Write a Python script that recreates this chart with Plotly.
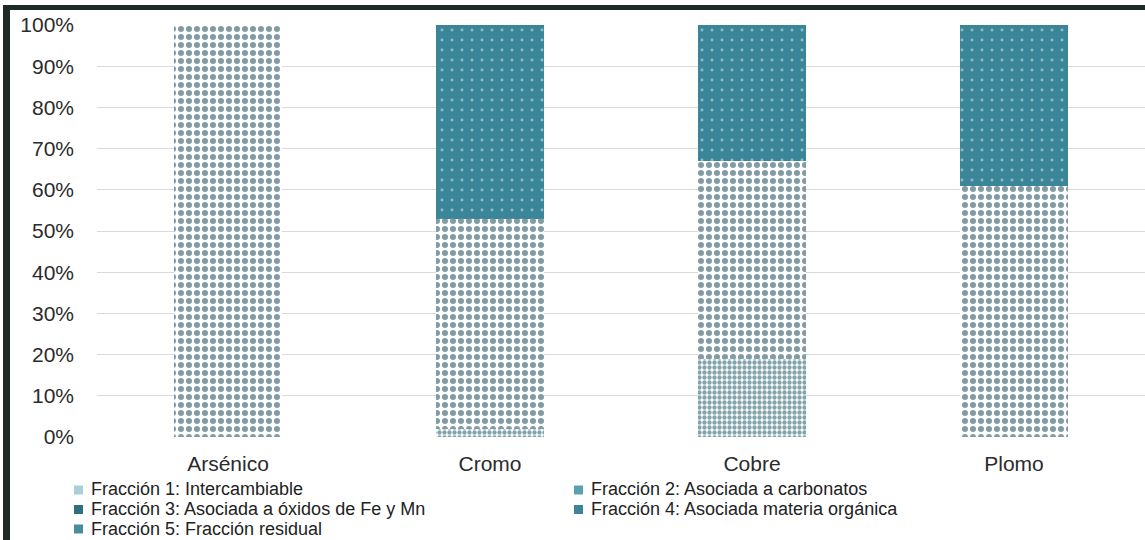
import plotly.graph_objects as go

categories = ["Arsénico", "Cromo", "Cobre", "Plomo"]
f1 = [0, 0, 0, 0]
f2 = [0, 0, 0, 0]
f5 = [0, 2, 19, 0]
f3 = [100, 51, 48, 61]
f4 = [0, 47, 33, 39]
names = [
    "Fracción 1: Intercambiable",
    "Fracción 2: Asociada a carbonatos",
    "Fracción 3: Asociada a óxidos de Fe y Mn",
    "Fracción 4: Asociada materia orgánica",
    "Fracción 5: Fracción residual",
]
y_ticks = [0, 10, 20, 30, 40, 50, 60, 70, 80, 90, 100]
y_labels = [f"{v}%" for v in y_ticks]

W, H = 1145, 540
L, R, T, B = 97, 0, 25, 103
pw = W - L - R
ph = H - T - B

def px_x(p):
    return (p - L) / pw

def px_y(p):
    return (H - B - p) / ph

fig = go.Figure()
styles = [
    dict(shape=".", fgcolor="#8fc0cc", bgcolor="white", size=6, solidity=0.3),
    dict(shape=".", fgcolor="#3f8aa0", bgcolor="white", size=7, solidity=0.4),
    dict(shape=".", fgcolor="#05384a", bgcolor="white", size=8, solidity=0.45),
    dict(shape=".", fgcolor="#e3f1f4", bgcolor="#3a8598", size=10, solidity=0.07),
    dict(shape=".", fgcolor="#084a5c", bgcolor="white", size=5, solidity=0.6),
]
legend_colors = ["#a9d0d9", "#5aa0b2", "#2e6f80", "#3a8598", "#4a8c9d"]
series = [f1, f2, f3, f4, f5]
# stacking order bottom -> top: F1, F2, F5, F3, F4
order = [0, 1, 4, 2, 3]
for i in order:
    fig.add_trace(go.Bar(
        x=categories, y=series[i], name=names[i],
        marker=dict(color="white", line=dict(width=0), pattern=styles[i]),
        width=0.41, showlegend=False,
    ))

# legend drawn as text + small swatches (two columns, three rows)
leg_pos = [(90, 489.5), (590, 489.5), (90, 509), (590, 509), (90, 528.5)]
annotations = []
shapes = []
for i, (lx, ly) in enumerate(leg_pos):
    annotations.append(dict(
        text=names[i], x=px_x(lx), y=px_y(ly), xref="paper", yref="paper",
        xanchor="left", yanchor="middle", showarrow=False,
        font=dict(size=18, color="#222222"), borderpad=0,
    ))
    shapes.append(dict(
        type="rect", xref="paper", yref="paper",
        x0=px_x(lx - 16), x1=px_x(lx - 7), y0=px_y(ly + 5), y1=px_y(ly - 4),
        fillcolor=legend_colors[i], line=dict(width=0),
    ))

# dark frame of the original figure (left and top edges)
shapes += [
    dict(type="rect", xref="paper", yref="paper", x0=px_x(3), x1=px_x(10), y0=px_y(540), y1=px_y(5),
         fillcolor="#1e2a26", line=dict(width=0), layer="above"),
    dict(type="rect", xref="paper", yref="paper", x0=px_x(3), x1=px_x(1145), y0=px_y(10), y1=px_y(5),
         fillcolor="#1e2a26", line=dict(width=0), layer="above"),
]

fig.update_layout(
    width=W, height=H,
    barmode="stack",
    margin=dict(l=L, r=R, t=T, b=B, autoexpand=False),
    plot_bgcolor="white", paper_bgcolor="white",
    font=dict(family="Liberation Sans, Arial, sans-serif", color="#2b2b2b"),
    xaxis=dict(showgrid=False, showline=False, ticks="", tickfont=dict(size=21, color="#2b2b2b"),
               ticklabelstandoff=12),
    yaxis=dict(range=[0, 100], tickvals=y_ticks, ticktext=y_labels,
               showgrid=True, gridcolor="#d9d9d9", gridwidth=1, zeroline=False,
               tickfont=dict(size=21, color="#2b2b2b"), ticklabelstandoff=22),
    showlegend=False,
    annotations=annotations,
    shapes=shapes,
)

fig.write_html("out.html", config={"displayModeBar": False},
               post_script="document.body.style.margin='0px';")
